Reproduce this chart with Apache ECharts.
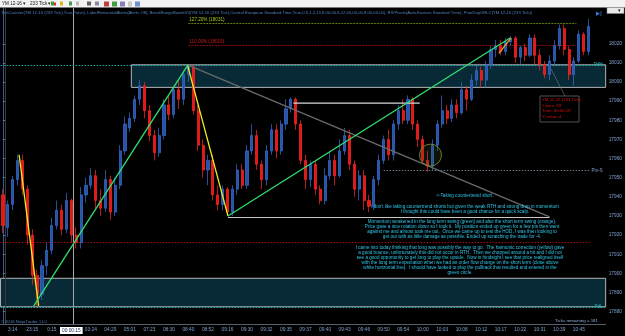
<!DOCTYPE html>
<html style="height: 100%">
<head>
<meta charset="utf-8">
<title>YM 12-16 (233 Tick)</title>
</head>
<body style="height: 100%; margin: 0; background: #000">
<div id="container" style="width: 625px; height: 336px"></div>
<script type="text/javascript" src="https://cdn.jsdelivr.net/npm/echarts@6/dist/echarts.min.js"></script>
<script type="text/javascript">
// time labels under every 4th bar, starting at bar 2
var timeLabels = ['3:14', '23:15', '0:15', '00:00:15', '03:24', '04:29', '05:01', '07:23', '08:30', '08:40',
    '08:52', '09:16', '09:30', '09:32', '09:35', '09:37', '09:40', '09:43', '09:46', '09:50',
    '09:54', '10:00', '10:03', '10:08', '10:12', '10:17', '10:22', '10:31', '10:39', '10:45'];
var slotCount = 124;
var priceTicks = [17880, 17890, 17900, 17910, 17920, 17930, 17940, 17950, 17960, 17970, 17980, 17990, 18000, 18010, 18020];
var lastPrice = 18029;

// [open, close, low, high]
var bars = [
    [17941,17925,17921,17944],[17924,17936,17919,17938],[17936,17949,17933,17951],[17949,17959,17946,17962],
    [17959,17944,17941,17962],[17944,17920,17915,17946],[17920,17899,17894,17923],[17899,17889,17883,17902],
    [17889,17904,17886,17907],[17904,17912,17899,17916],[17912,17925,17910,17929],[17925,17933,17923,17938],
    [17933,17923,17920,17936],[17923,17938,17921,17942],[17938,17920,17916,17939],[17920,17916,17913,17924],
    [17916,17941,17913,17945],[17941,17946,17937,17950],[17946,17951,17944,17955],[17951,17938,17934,17954],
    [17938,17934,17930,17944],[17934,17949,17932,17954],[17949,17932,17928,17951],[17932,17946,17930,17950],
    [17946,17964,17944,17967],[17964,17978,17962,17982],[17976,17981,17974,17984],[17981,17991,17979,17993],
    [17991,17998,17988,18001],[17998,17985,17981,18000],[17985,17972,17969,17988],[17972,17963,17959,17975],
    [17963,17972,17961,17976],[17972,17988,17970,17991],[17988,17983,17980,17993],[17983,17996,17981,17998],
    [17996,17991,17986,18001],[17991,18004,17988,18006],[18004,18008,18000,18009],[18008,17985,17983,18009],
    [17985,17967,17964,17988],[17967,17954,17950,17970],[17954,17959,17946,17962],[17959,17941,17938,17962],
    [17941,17936,17933,17946],[17936,17944,17933,17946],[17944,17932,17930,17945],[17932,17944,17930,17946],
    [17944,17954,17941,17957],[17954,17946,17944,17957],[17946,17964,17944,17967],[17964,17972,17962,17978],
    [17972,17957,17954,17975],[17957,17949,17944,17959],[17949,17964,17946,17967],[17964,17975,17962,17978],
    [17975,17964,17960,17978],[17964,17978,17962,17980],[17978,17986,17975,17991],[17986,17991,17984,17992],
    [17991,17978,17975,17992],[17978,17959,17957,17980],[17959,17949,17944,17962],[17949,17957,17945,17959],
    [17957,17944,17941,17959],[17944,17938,17936,17946],[17938,17951,17936,17955],[17951,17959,17949,17964],
    [17959,17951,17946,17962],[17951,17964,17950,17970],[17964,17972,17962,17976],[17972,17957,17954,17975],
    [17957,17944,17940,17959],[17944,17951,17938,17954],[17951,17938,17933,17954],[17938,17935,17932,17941],
    [17935,17949,17933,17951],[17949,17959,17946,17962],[17959,17970,17957,17972],[17970,17962,17959,17975],
    [17962,17978,17959,17980],[17978,17985,17975,17988],[17985,17980,17978,17991],[17980,17991,17978,17993],
    [17991,17978,17975,17992],[17978,17970,17966,17980],[17970,17959,17957,17972],[17959,17956,17953,17964],
    [17956,17967,17954,17970],[17967,17978,17964,17980],[17978,17985,17976,17993],[17985,17981,17978,17988],
    [17981,17988,17979,17991],[17988,17984,17981,17991],[17984,17996,17983,18000],[17996,17991,17985,17998],
    [17991,18001,17990,18004],[18001,18006,17998,18009],[18006,18001,17997,18008],[18001,18009,17997,18011],
    [18009,18017,18007,18019],[18017,18019,18013,18022],[18019,18016,18014,18022],[18016,18021,18014,18023],
    [18021,18023,18019,18024],[18023,18013,18010,18024],[18013,18018,18009,18019],[18018,18014,18011,18020],
    [18014,18023,18013,18025],[18023,18014,18009,18025],[18014,18009,18006,18017],[18009,18004,18002,18011],
    [18004,18011,18001,18014],[18011,18019,18009,18022],[18019,18028,18017,18030],[18028,18017,18014,18030],
    [18017,18004,18001,18019],[18004,18011,17998,18013],[18011,18025,18010,18027],[18025,18016,18014,18026],
    [18016,18029,18014,18033]
];

// drawn objects, in [bar index, price]
var yellowLines = [[[3.3, 17962], [7.3, 17883]], [[37.8, 18009], [46.1, 17930]]];
var greenLines = [[[6.3, 17883], [37.9, 18009]], [[46.1, 17930], [103.9, 18023]]];
var orangeLine = [[101.6, 18015], [104.1, 18023]];
var greyDiagonal = [[37.8, 18009], [112.0, 17929.5]];
var whiteLine = [[59.5, 17989], [85.4, 17989]];
var fibLevels = [['127.20% (18031)', 18030.7], ['110.00% (18019)', 18019.3], ['100.00% (18009)', 18009], ['0.00% (17930)', 17929.5]];
var priorHigh = 18009, priorLow = 17882.5;
var upperZone = [26.3, 18009, 17997.2];
var lowerZone = [-0.5, 17897.4, 17882.5];
var redLevel = 17916.2;
var pivotS = 17953.7;
var circleSpot = [87.6, 17961.8];
var sessionBars = [0.55, 14.44];

var categories = [];
for (var i = 0; i < slotCount; i++) {
    var k = (i - 2) / 4;
    categories.push(i >= 2 && (i - 2) % 4 === 0 && k < timeLabels.length ? timeLabels[k] : '');
}

var FONT = 'Liberation Sans';
var noteColor = '#2fc4e6';

function trendSeries(pts, color) {
    return {
        type: 'line', xAxisIndex: 1, yAxisIndex: 0, data: pts, symbol: 'none', silent: true,
        lineStyle: {color: color, width: 1.3}, z: 6, animation: false
    };
}

function hLine(x1, x2, y, style, label) {
    var a = {coord: [x1, y], lineStyle: style};
    if (label) a.label = label; else a.label = {show: false};
    return [a, {coord: [x2, y]}];
}

function vLine(x, color) {
    return [{coord: [x, 17873.5], lineStyle: {color: color, width: 1, type: 'solid'}, label: {show: false}},
            {coord: [x, 18038.7]}];
}

var dom = document.getElementById('container');
var myChart = echarts.init(dom, null, {renderer: 'canvas'});

var notes1 = [
    '<-Taking countertrend short.',
    '',
    "I don't like taking countertrend shorts but given the weak RTH and strong drop in momentum",
    'I thought this could have been a good chance for a quick scalp.'
];
var notes2 = [
    'Momentum weakened in the long term swing (green) and also the short term swing (orange).',
    'Price gave a nice rotation down so I took it.  My position ended up green for a few pts then went',
    'against me and almost took me out.  Once we came up to test the HOD, I was then looking to',
    'get out with as little damage as possible. Ended up scratching the trade for -4.'
];
var notes3 = [
    'I came into today thinking that long was possibly the way to go.  The harmonic correction (yellow) gave',
    'a good bounce, unfortunately this did not occur in RTH.  Then we chopped around a bit and I did not',
    'see a good opportunity to get long to play the upside.  Now in hindsight I see that price realigned itself',
    'with the long term expectation when we had an order flow change on the short term (close above',
    'white horizontal line).  I should have looked to play the pullback that resulted and entered in the',
    'green circle.'
];

function noteBlock(lines, x, y, step) {
    return lines.map(function (t, j) {
        return {type: 'text', x: x, y: y + j * step, z: 20, silent: true,
            style: {text: t, fill: noteColor, font: '4.6px ' + FONT, align: 'center', verticalAlign: 'middle'}};
    });
}

var graphics = [
    {type: 'rect', shape: {x: 0, y: 0, width: 625, height: 7.5}, style: {fill: '#f2f2f2'}, z: 30},
    {type: 'text', x: 2, y: 4, z: 31, style: {text: 'YM 12-16 \u25BE   233 Tick \u25BE', fill: '#111', font: '4.6px ' + FONT, verticalAlign: 'middle'}},
    {type: 'rect', shape: {x: 51, y: 1.5, width: 3, height: 4}, style: {fill: '#3a9a3a'}, z: 31},
    {type: 'rect', shape: {x: 54, y: 2.5, width: 2, height: 3}, style: {fill: '#d03030'}, z: 31},
    {type: 'rect', shape: {x: 60, y: 1.5, width: 3, height: 4}, style: {fill: '#e0b020'}, z: 31},
    {type: 'rect', shape: {x: 69, y: 1.5, width: 3, height: 4}, style: {fill: '#4a9a4a'}, z: 31},
    {type: 'rect', shape: {x: 76, y: 1.5, width: 3, height: 4}, style: {fill: '#b8b8b8'}, z: 31},
    {type: 'rect', shape: {x: 87, y: 1.5, width: 4, height: 4}, style: {fill: '#606060'}, z: 31},
    {type: 'rect', shape: {x: 95, y: 1.5, width: 4, height: 4}, style: {fill: '#8a8aa0'}, z: 31},
    {type: 'rect', shape: {x: 104, y: 1.5, width: 5, height: 5}, style: {fill: '#c04040'}, z: 31},
    {type: 'rect', shape: {x: 112, y: 1.5, width: 5, height: 5}, style: {fill: '#40a040'}, z: 31},
    {type: 'rect', shape: {x: 120, y: 1.5, width: 5, height: 5}, style: {fill: '#8080c0'}, z: 31},
    {type: 'rect', shape: {x: 128, y: 1.5, width: 4, height: 5}, style: {fill: '#c8c8c8'}, z: 31},
    {type: 'rect', shape: {x: 135, y: 1.5, width: 5, height: 5}, style: {fill: '#7090d0'}, z: 31},
    {type: 'rect', shape: {x: 607, y: 7.5, width: 17, height: 6}, style: {fill: '#e8e8e8', stroke: '#888', lineWidth: 0.5}, z: 31},
    {type: 'text', x: 619, y: 10.5, z: 32, style: {text: '\u25BE', fill: '#111', font: '5px ' + FONT, align: 'center', verticalAlign: 'middle'}},
    {type: 'text', x: 1, y: 12.5, z: 20, style: {
        text: 'TickCounter(YM 12-16 (233 Tick),True,False), LabelHorizontalAlerts(Alerts Off), BreakRangeBandsV4(YM 12-16 (233 Tick),Central European Standard Time,True,0.5,1,2,13,8,00,00,8,12,00,00,00,8,00,00,00), RX/Pivots(Auto,Eastern Standard Time), PriorDayOHLC(YM 12-16 (233 Tick))',
        fill: '#4f80bf', font: '4.2px ' + FONT, verticalAlign: 'middle'}},
    {type: 'text', x: 599, y: 14, z: 20, style: {text: '\u25B6|', fill: '#3a78d0', font: 'bold 5px ' + FONT, align: 'center', verticalAlign: 'middle'}},
    {type: 'text', x: 1, y: 321.5, z: 20, style: {text: '\u00A9 2016 NinjaTrader, LLC', fill: '#4f80bf', font: '4.2px ' + FONT, verticalAlign: 'middle'}},
    {type: 'text', x: 598, y: 320.5, z: 20, style: {text: 'Ticks remaining = 181', fill: '#8fb0d8', font: '4.4px ' + FONT, align: 'right', verticalAlign: 'middle'}},
    // info box
    {type: 'line', shape: {x1: 551, y1: 69, x2: 565, y2: 96}, style: {stroke: '#777', lineWidth: 0.6}, z: 19},
    {type: 'rect', shape: {x: 540, y: 96, width: 39, height: 26}, style: {fill: '#000', stroke: '#666', lineWidth: 0.8}, z: 20},
    {type: 'text', x: 542, y: 100, z: 21, style: {text: 'YM 12-16 (233 Tick)', fill: '#e01010', font: '4.3px ' + FONT, verticalAlign: 'middle'}},
    {type: 'text', x: 542, y: 105.5, z: 21, style: {text: '# bars: 33', fill: '#e01010', font: '4.3px ' + FONT, verticalAlign: 'middle'}},
    {type: 'text', x: 542, y: 111, z: 21, style: {text: 'Time: 00:00:19', fill: '#e01010', font: '4.3px ' + FONT, verticalAlign: 'middle'}},
    {type: 'text', x: 542, y: 116.5, z: 21, style: {text: 'Y value: 4', fill: '#e01010', font: '4.3px ' + FONT, verticalAlign: 'middle'}}
].concat(noteBlock(notes1, 465, 196, 5.3), noteBlock(notes2, 462, 222, 4.9), noteBlock(notes3, 460, 247.3, 5));

var dotted = function (c) { return {color: c, width: 1, type: [1.5, 1.5]}; };
var lvlLabel = function (text, c) {
    return {show: true, formatter: text, position: 'insideStartTop', distance: 1, color: c, fontSize: 4.6, fontFamily: FONT};
};

option = {
    backgroundColor: '#000',
    animation: false,
    grid: {left: 0, right: 19, top: 8, bottom: 12},
    xAxis: [{
        type: 'category',
        data: categories,
        boundaryGap: true,
        axisLine: {lineStyle: {color: '#55606c', width: 1}},
        axisTick: {show: false},
        splitLine: {show: false},
        axisLabel: {
            interval: 0,
            color: '#7fa0cc',
            fontSize: 4.8,
            fontFamily: FONT,
            margin: 3,
            formatter: function (v) {
                return v === '00:00:15' ? '{hl|' + v + '}' : v;
            },
            rich: {hl: {backgroundColor: '#ffffff', color: '#1a2a5a', fontSize: 4.8, padding: [1, 2]}}
        }
    }, {
        type: 'value', min: -0.5, max: slotCount - 0.5, show: false
    }],
    yAxis: [{
        type: 'value',
        position: 'right',
        min: 17873.5,
        max: 18038.7,
        scale: true,
        axisLine: {show: true, lineStyle: {color: '#2f5f90', width: 1}},
        axisTick: {show: true, customValues: priceTicks, length: 2, lineStyle: {color: '#4f7fb0'}},
        axisLabel: {customValues: priceTicks, color: '#7fa0cc', fontSize: 4.8, fontFamily: FONT, margin: 3,
            formatter: function (v) { return String(v); }},
        splitLine: {show: false}
    }],
    graphic: graphics,
    series: [{
        // zones and horizontal levels
        type: 'scatter', xAxisIndex: 1, yAxisIndex: 0, data: [], z: 1, silent: true,
        markArea: {
            silent: true,
            data: [
                [{coord: [upperZone[0], upperZone[1]], itemStyle: {color: '#072a36', borderColor: '#b4b4b4', borderWidth: 1}},
                 {coord: [slotCount - 0.5, upperZone[2]]}],
                [{coord: [lowerZone[0], lowerZone[1]], itemStyle: {color: '#072a36', borderColor: '#b4b4b4', borderWidth: 1}},
                 {coord: [slotCount - 0.5, lowerZone[2]]}]
            ]
        },
        markLine: {
            silent: true,
            symbol: ['none', 'none'],
            data: [
                vLine(sessionBars[0], '#3a3a3a'),
                vLine(sessionBars[1], '#a8a8a8'),
                hLine(-0.5, slotCount - 0.5, priorHigh, {color: '#1aa8b0', width: 1.2, type: [1.5, 1.5]},
                    {show: true, formatter: 'PdH', position: 'insideEndTop', distance: [3, -2.5], color: '#20b8c0', fontSize: 4.6, fontFamily: FONT}),
                hLine(-0.5, slotCount - 0.5, priorLow, {color: '#1aa8b0', width: 1.2, type: [1.5, 1.5]},
                    {show: true, formatter: 'PdL', position: 'insideEndTop', distance: [3, -2.5], color: '#20b8c0', fontSize: 4.6, fontFamily: FONT}),
                hLine(-0.5, 120.2, redLevel, dotted('#a01010')),
                hLine(78, 120.2, pivotS, dotted('#6a7a8a'),
                    {show: true, formatter: 'Piv-S', position: 'end', distance: 2, color: '#7fa0cc', fontSize: 4.6, fontFamily: FONT}),
                hLine(37.97, 117.5, fibLevels[0][1], {color: '#5f7f10', width: 1, type: [2, 1]}, lvlLabel(fibLevels[0][0], '#a8c820')),
                hLine(37.97, 117.5, fibLevels[1][1], {color: '#8a0a0a', width: 1, type: [2, 1]}, lvlLabel(fibLevels[1][0], '#d01818')),
                hLine(37.97, 45, fibLevels[2][1], {color: '#999', width: 0.1, opacity: 0}, lvlLabel(fibLevels[2][0], '#a8a8a8')),
                hLine(46.1, 112.0, fibLevels[3][1], {color: '#c8c8c8', width: 1.2, type: 'solid'}),
                hLine(43.3, 50, fibLevels[3][1], {color: '#999', width: 0.1, opacity: 0}, lvlLabel(fibLevels[3][0], '#a8a8a8'))
            ]
        }
    },
    trendSeries(greyDiagonal, '#6a6a6a'),
    trendSeries(whiteLine, '#d8d8d8'),
    trendSeries(yellowLines[0], '#f0f020'),
    trendSeries(yellowLines[1], '#f0f020'),
    trendSeries(greenLines[0], '#30e070'),
    trendSeries(greenLines[1], '#30e070'),
    trendSeries(orangeLine, '#f0a020'),
    {
        type: 'scatter', xAxisIndex: 1, yAxisIndex: 0, silent: true, z: 7,
        data: [circleSpot], symbol: 'circle', symbolSize: 22,
        itemStyle: {color: 'rgba(60,90,40,0.25)', borderColor: '#7a9a3a', borderWidth: 1}
    },
    {
        name: 'YM 12-16',
        type: 'candlestick',
        xAxisIndex: 0, yAxisIndex: 0,
        data: bars,
        barWidth: 2.6,
        z: 5,
        itemStyle: {
            color: '#2453a8', color0: '#ee1414',
            borderColor: '#3a70d4', borderColor0: '#ff2a2a', borderWidth: 0.7
        },
        markLine: {
            silent: true, symbol: ['none', 'none'],
            data: [{yAxis: lastPrice, lineStyle: {opacity: 0}}],
            label: {show: true, position: 'end', distance: 2, formatter: String(lastPrice),
                backgroundColor: '#ffffff', color: '#1a2a5a', fontSize: 4.8, fontFamily: FONT, padding: [1, 2]}
        }
    }]
};

if (option && typeof option === 'object') {
    myChart.setOption(option, true);
}
</script>
</body>
</html>
